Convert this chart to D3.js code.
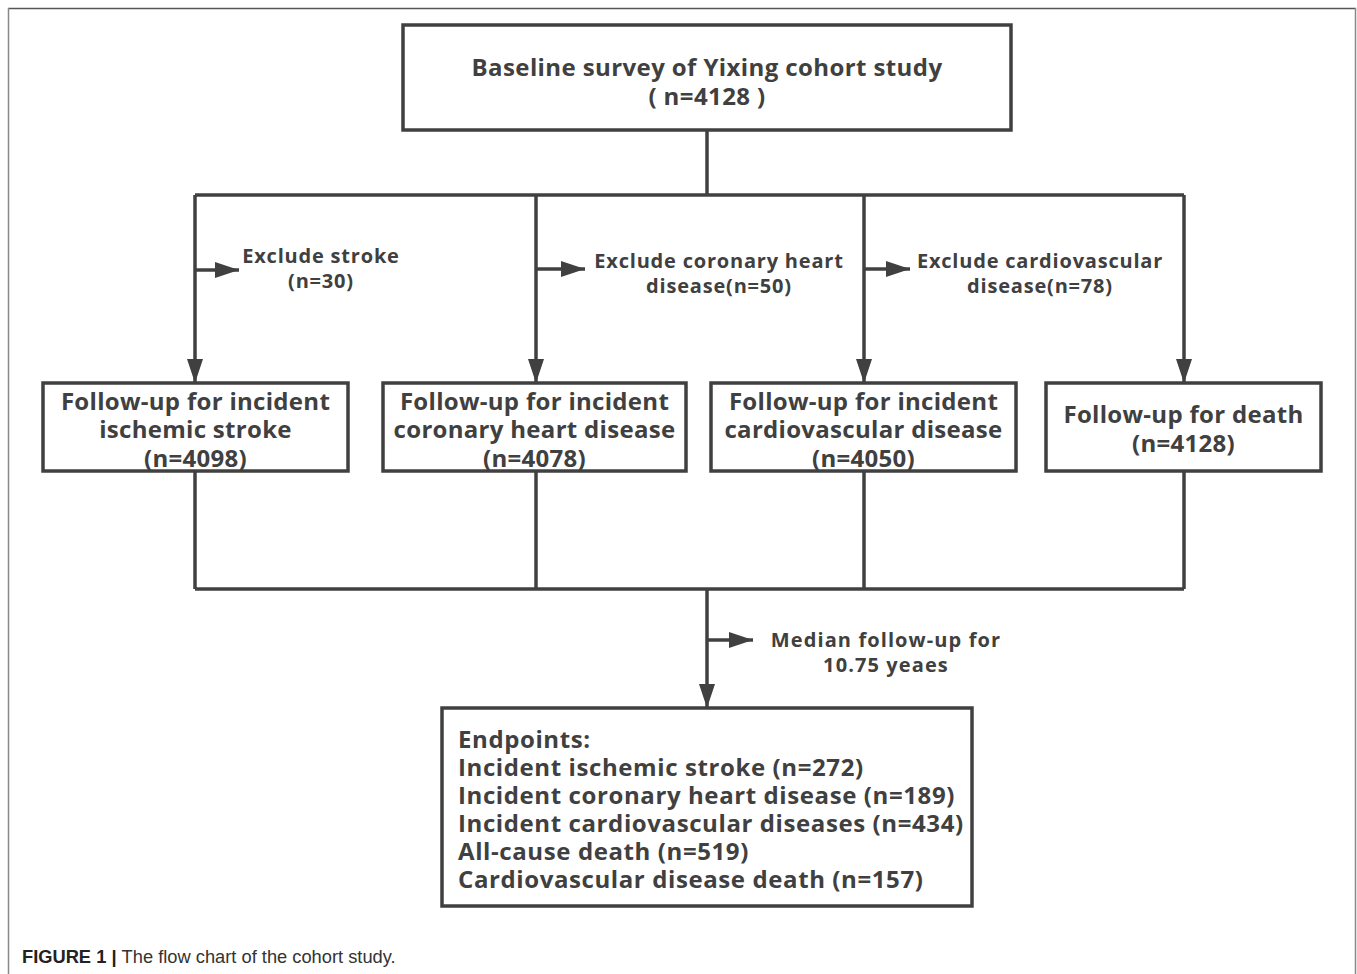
<!DOCTYPE html>
<html>
<head>
<meta charset="utf-8">
<script src="https://cdn.jsdelivr.net/npm/d3@7"></script>
<style>
  body { margin: 0; background: #fff; }
  svg { display: block; }
</style>
</head>
<body>
<script>
// chart content
const baseline = ["Baseline survey of Yixing cohort study", "( n=4128 )"];
const exclusions = [
  ["Exclude stroke", "(n=30)"],
  ["Exclude coronary heart", "disease(n=50)"],
  ["Exclude cardiovascular", "disease(n=78)"]
];
const followUps = [
  ["Follow-up for incident", "ischemic stroke", "(n=4098)"],
  ["Follow-up for incident", "coronary heart disease", "(n=4078)"],
  ["Follow-up for incident", "cardiovascular disease", "(n=4050)"],
  ["Follow-up for death", "(n=4128)"]
];
const medianNote = ["Median follow-up for", "10.75 yeaes"];
const endpoints = [
  "Endpoints:",
  "Incident ischemic stroke (n=272)",
  "Incident coronary heart disease (n=189)",
  "Incident cardiovascular diseases (n=434)",
  "All-cause death (n=519)",
  "Cardiovascular disease death (n=157)"
];

const width = 1357, height = 974;
const ink = "#404040";
const font = "'Open Sans', 'Noto Sans', sans-serif";

const svg = d3.select("body").append("svg")
  .attr("width", width).attr("height", height);

svg.append("defs").append("marker")
  .attr("id", "head")
  .attr("viewBox", "0 0 24 16")
  .attr("refX", 24).attr("refY", 8)
  .attr("markerUnits", "userSpaceOnUse")
  .attr("markerWidth", 24).attr("markerHeight", 16)
  .attr("orient", "auto")
  .append("path").attr("d", "M0,0 L24,8 L0,16 Z").attr("fill", ink);

// outer frame
svg.append("line").attr("x1", 8).attr("x2", 1356).attr("y1", 8.5).attr("y2", 8.5)
  .attr("stroke", "#555").attr("stroke-width", 1.5);
svg.append("line").attr("x1", 8.5).attr("x2", 8.5).attr("y1", 8).attr("y2", height)
  .attr("stroke", "#888").attr("stroke-width", 1.5);
svg.append("line").attr("x1", 1355.5).attr("x2", 1355.5).attr("y1", 8).attr("y2", height)
  .attr("stroke", "#888").attr("stroke-width", 1.5);

// layout
const colX = [195, 536, 864, 1184];
const midX = 707;
const busTop = 195, busBottom = 589;
const row2 = { y0: 383, y1: 471 };
const boxes2 = [[43, 348], [383, 686], [711, 1016], [1046, 1321]];

const lines = svg.append("g").attr("stroke", ink).attr("stroke-width", 3.5).attr("fill", "none");

function rect(x0, y0, x1, y1) {
  lines.append("rect").attr("x", x0).attr("y", y0)
    .attr("width", x1 - x0).attr("height", y1 - y0).attr("fill", "#fff");
}
function seg(x0, y0, x1, y1, arrow) {
  const l = lines.append("line").attr("x1", x0).attr("y1", y0).attr("x2", x1).attr("y2", y1);
  if (arrow) l.attr("marker-end", "url(#head)");
}
function textBlock(lns, cx, cy, size, lh, spacing, anchor) {
  const t = svg.append("text")
    .attr("font-family", font).attr("font-weight", 700)
    .attr("font-size", size).attr("fill", ink)
    .attr("letter-spacing", spacing)
    .attr("text-anchor", anchor || "middle");
  const top = cy - (lns.length - 1) * lh / 2;
  lns.forEach((s, i) => {
    t.append("tspan").attr("x", cx).attr("y", top + i * lh).attr("dy", "0.35em").text(s);
  });
}

// top box and bus
rect(403, 25, 1011, 130);
textBlock(baseline, 707, 82, 24, 29, 0.4);
seg(midX, 130, midX, busTop);
seg(colX[0], busTop, colX[3], busTop);
colX.forEach(x => seg(x, busTop, x, row2.y0, true));

// exclusion arrows
const exclArrow = [[270, 44], [269, 49], [269, 46]];
const exclText = [[321, 268], [719, 273], [1040, 273]];
exclusions.forEach((e, i) => {
  seg(colX[i], exclArrow[i][0], colX[i] + exclArrow[i][1], exclArrow[i][0], true);
  textBlock(e, exclText[i][0], exclText[i][1], 20, 25, 0.8);
});

// second row boxes
followUps.forEach((f, i) => {
  rect(boxes2[i][0], row2.y0, boxes2[i][1], row2.y1);
  seg(colX[i], row2.y1, colX[i], busBottom);
  textBlock(f, (boxes2[i][0] + boxes2[i][1]) / 2, f.length === 3 ? 430 : 429, 24, 28.5, 0.3);
});
seg(colX[0], busBottom, colX[3], busBottom);

// median follow-up
seg(midX, busBottom, midX, 708, true);
seg(midX, 640, midX + 46, 640, true);
textBlock(medianNote, 886, 652, 20, 25, 1.1);

// endpoints box
rect(442, 708, 972, 906);
textBlock(endpoints, 458, 810, 24, 28, 0.6, "start");

// caption
const cap = svg.append("text").attr("x", 22).attr("y", 963)
  .attr("font-family", "'Liberation Sans', Arial, sans-serif").attr("font-size", 18.3).attr("fill", "#333");
cap.append("tspan").attr("font-weight", 700).attr("fill", "#222").text("FIGURE 1 | ");
cap.append("tspan").text("The flow chart of the cohort study.");
</script>
</body>
</html>
